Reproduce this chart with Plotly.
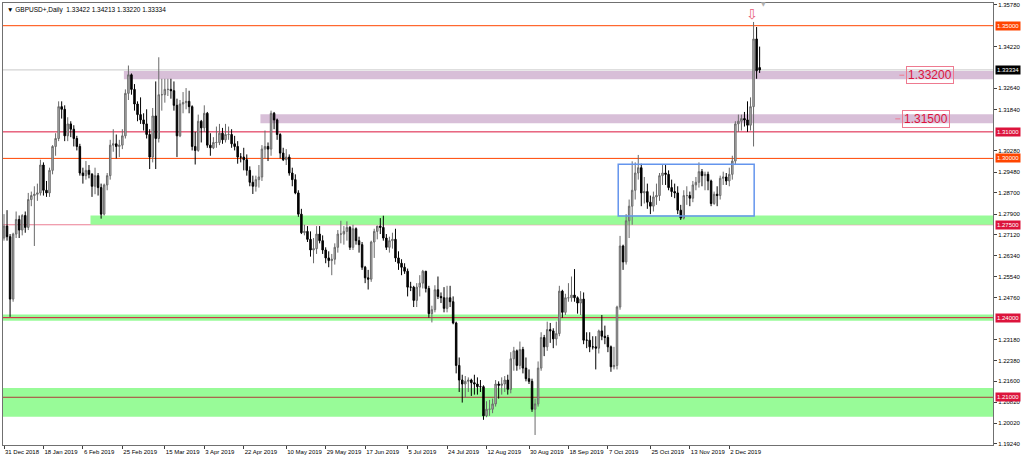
import plotly.graph_objects as go
import pandas as pd

# ---------------- data ----------------
opens = [
    1.2700, 1.2745, 1.2705, 1.2470, 1.2715, 1.2770, 1.2730, 1.2785, 1.2740, 1.2845,
    1.2860, 1.2865, 1.2870, 1.2975, 1.2880, 1.2870, 1.2955, 1.3045, 1.3075, 1.3195,
    1.3185, 1.3085, 1.3130, 1.3110, 1.3075, 1.3045, 1.2945, 1.2935, 1.2955, 1.2940,
    1.2895, 1.2935, 1.2890, 1.2790, 1.2900, 1.2935, 1.3050, 1.3055, 1.3045, 1.3050,
    1.3085, 1.3245, 1.3315, 1.3260, 1.3205, 1.3165, 1.3145, 1.3130, 1.3090, 1.3005,
    1.3160, 1.3075, 1.3240, 1.3240, 1.3260, 1.3260, 1.3255, 1.3200, 1.3085, 1.3205,
    1.3210, 1.3215, 1.3195, 1.3045, 1.3030, 1.3140, 1.3115, 1.3170, 1.3050, 1.3040,
    1.3060, 1.3060, 1.3095, 1.3070, 1.3090, 1.3090, 1.3055, 1.3045, 1.3005, 1.3005,
    1.2995, 1.2955, 1.2910, 1.2895, 1.2920, 1.2930, 1.3035, 1.3045, 1.3035, 1.3170,
    1.3145, 1.3090, 1.3020, 1.2995, 1.3005, 1.2945, 1.2920, 1.2870, 1.2790, 1.2720,
    1.2725, 1.2695, 1.2655, 1.2660, 1.2715, 1.2690, 1.2655, 1.2625, 1.2615, 1.2620,
    1.2665, 1.2715, 1.2715, 1.2725, 1.2740, 1.2665, 1.2735, 1.2690, 1.2675, 1.2590,
    1.2550, 1.2545, 1.2685, 1.2725, 1.2745, 1.2740, 1.2700, 1.2665, 1.2690, 1.2695,
    1.2625, 1.2605, 1.2590, 1.2575, 1.2515, 1.2515, 1.2465, 1.2515, 1.2530, 1.2575,
    1.2510, 1.2415, 1.2430, 1.2505, 1.2480, 1.2475, 1.2435, 1.2475, 1.2460, 1.2380,
    1.2220, 1.2165, 1.2150, 1.2160, 1.2165, 1.2155, 1.2150, 1.2140, 1.2140, 1.2030,
    1.2055, 1.2055, 1.2075, 1.2150, 1.2145, 1.2150, 1.2165, 1.2130, 1.2245, 1.2275,
    1.2220, 1.2280, 1.2210, 1.2170, 1.2160, 1.2055, 1.2075, 1.2210, 1.2325, 1.2290,
    1.2355, 1.2350, 1.2320, 1.2340, 1.2500, 1.2420, 1.2475, 1.2475, 1.2485, 1.2475,
    1.2455, 1.2470, 1.2315, 1.2315, 1.2290, 1.2290, 1.2285, 1.2350, 1.2330, 1.2325,
    1.2290, 1.2215, 1.2220, 1.2440, 1.2670, 1.2610, 1.2765, 1.2820, 1.2880, 1.2945,
    1.2965, 1.2870, 1.2875, 1.2835, 1.2820, 1.2855, 1.2860, 1.2935, 1.2945, 1.2940,
    1.2890, 1.2875, 1.2870, 1.2805, 1.2775, 1.2860, 1.2860, 1.2850, 1.2900, 1.2910,
    1.2950, 1.2935, 1.2940, 1.2915, 1.2830, 1.2865, 1.2860, 1.2925, 1.2930, 1.2915,
    1.2940, 1.2990, 1.3130, 1.3140, 1.3150, 1.3145, 1.3125, 1.3195, 1.3450, 1.33422,
]
highs = [
    1.2790, 1.2805, 1.2715, 1.2720, 1.2800, 1.2785, 1.2790, 1.2800, 1.2870, 1.2875,
    1.2895, 1.2905, 1.2995, 1.2985, 1.2915, 1.2965, 1.3050, 1.3095, 1.3215, 1.3215,
    1.3200, 1.3155, 1.3140, 1.3125, 1.3085, 1.3055, 1.2965, 1.2990, 1.2975, 1.2945,
    1.2965, 1.2945, 1.2905, 1.2905, 1.2945, 1.3070, 1.3110, 1.3090, 1.3070, 1.3110,
    1.3260, 1.3350, 1.3320, 1.3280, 1.3215, 1.3230, 1.3170, 1.3185, 1.3110, 1.3190,
    1.3290, 1.3381, 1.3300, 1.3300, 1.3300, 1.3300, 1.3290, 1.3225, 1.3220, 1.3250,
    1.3265, 1.3255, 1.3200, 1.3100, 1.3165, 1.3145, 1.3200, 1.3175, 1.3095, 1.3080,
    1.3120, 1.3130, 1.3115, 1.3130, 1.3120, 1.3110, 1.3085, 1.3065, 1.3020, 1.3040,
    1.3015, 1.2970, 1.2935, 1.2935, 1.2975, 1.3050, 1.3105, 1.3060, 1.3180, 1.3175,
    1.3150, 1.3095, 1.3040, 1.3035, 1.3015, 1.2965, 1.2940, 1.2880, 1.2810, 1.2750,
    1.2745, 1.2725, 1.2700, 1.2745, 1.2745, 1.2710, 1.2665, 1.2650, 1.2640, 1.2680,
    1.2730, 1.2765, 1.2745, 1.2763, 1.2745, 1.2750, 1.2740, 1.2705, 1.2685, 1.2595,
    1.2580, 1.2690, 1.2735, 1.2745, 1.2775, 1.2784, 1.2715, 1.2705, 1.2720, 1.2735,
    1.2650, 1.2620, 1.2605, 1.2585, 1.2535, 1.2520, 1.2530, 1.2560, 1.2580, 1.2575,
    1.2520, 1.2445, 1.2522, 1.2555, 1.2495, 1.2515, 1.2520, 1.2520, 1.2480, 1.2385,
    1.2250, 1.2185, 1.2180, 1.2175, 1.2170, 1.2185, 1.2175, 1.2165, 1.2145, 1.2085,
    1.2090, 1.2095, 1.2165, 1.2160, 1.2175, 1.2180, 1.2185, 1.2270, 1.2290, 1.2280,
    1.2310, 1.2290, 1.2250, 1.2205, 1.2170, 1.2095, 1.2235, 1.2345, 1.2335, 1.2385,
    1.2380, 1.2360, 1.2385, 1.2520, 1.2505, 1.2490, 1.2530, 1.2555, 1.2583, 1.2480,
    1.2500, 1.2495, 1.2345, 1.2345, 1.2330, 1.2330, 1.2355, 1.2410, 1.2370, 1.2335,
    1.2295, 1.2290, 1.2445, 1.2708, 1.2675, 1.2790, 1.2845, 1.2989, 1.2985, 1.3013,
    1.2980, 1.2930, 1.2905, 1.2860, 1.2875, 1.2905, 1.2945, 1.2975, 1.2975, 1.2955,
    1.2920, 1.2905, 1.2895, 1.2825, 1.2880, 1.2895, 1.2875, 1.2915, 1.2930, 1.2985,
    1.2960, 1.2950, 1.2950, 1.2920, 1.2875, 1.2895, 1.2935, 1.2950, 1.2945, 1.2965,
    1.3010, 1.3140, 1.3165, 1.3165, 1.3175, 1.3215, 1.3230, 1.3514, 1.3495, 1.34213,
]
lows = [
    1.2690, 1.2690, 1.2403, 1.2460, 1.2700, 1.2700, 1.2710, 1.2720, 1.2730, 1.2820,
    1.2670, 1.2840, 1.2860, 1.2860, 1.2855, 1.2855, 1.2940, 1.3010, 1.3065, 1.3150,
    1.3065, 1.3065, 1.3080, 1.3045, 1.3030, 1.2935, 1.2905, 1.2920, 1.2925, 1.2855,
    1.2865, 1.2860, 1.2773, 1.2785, 1.2880, 1.2920, 1.3025, 1.3000, 1.3005, 1.3035,
    1.3075, 1.3220, 1.3240, 1.3180, 1.3140, 1.3130, 1.3105, 1.3075, 1.2960, 1.2985,
    1.2960, 1.3060, 1.3180, 1.3210, 1.3235, 1.3225, 1.3180, 1.3005, 1.3080, 1.3170,
    1.3185, 1.3170, 1.3030, 1.2977, 1.3025, 1.3060, 1.3100, 1.3040, 1.3010, 1.3035,
    1.3040, 1.3050, 1.3055, 1.3060, 1.3070, 1.3040, 1.3030, 1.2980, 1.2985, 1.2955,
    1.2935, 1.2895, 1.2866, 1.2875, 1.2890, 1.2915, 1.3000, 1.2990, 1.3010, 1.3110,
    1.3070, 1.3000, 1.2990, 1.2975, 1.2935, 1.2895, 1.2865, 1.2780, 1.2715, 1.2710,
    1.2685, 1.2630, 1.2605, 1.2640, 1.2680, 1.2640, 1.2605, 1.2590, 1.2560, 1.2600,
    1.2645, 1.2680, 1.2675, 1.2690, 1.2655, 1.2655, 1.2675, 1.2645, 1.2580, 1.2530,
    1.2506, 1.2535, 1.2625, 1.2695, 1.2715, 1.2690, 1.2655, 1.2645, 1.2660, 1.2610,
    1.2580, 1.2560, 1.2565, 1.2480, 1.2500, 1.2440, 1.2440, 1.2480, 1.2510, 1.2495,
    1.2400, 1.2382, 1.2420, 1.2470, 1.2455, 1.2420, 1.2420, 1.2440, 1.2375, 1.2190,
    1.2120, 1.2080, 1.2100, 1.2120, 1.2105, 1.2110, 1.2110, 1.2120, 1.2015, 1.2025,
    1.2030, 1.2040, 1.2065, 1.2095, 1.2110, 1.2120, 1.2110, 1.2115, 1.2200, 1.2200,
    1.2205, 1.2190, 1.2160, 1.2150, 1.2045, 1.1958, 1.2065, 1.2200, 1.2255, 1.2275,
    1.2305, 1.2285, 1.2295, 1.2330, 1.2400, 1.2410, 1.2460, 1.2460, 1.2460, 1.2415,
    1.2410, 1.2300, 1.2285, 1.2270, 1.2280, 1.2205, 1.2265, 1.2315, 1.2300, 1.2270,
    1.2196, 1.2205, 1.2205, 1.2430, 1.2580, 1.2600, 1.2700, 1.2750, 1.2845, 1.2920,
    1.2820, 1.2830, 1.2810, 1.2790, 1.2800, 1.2825, 1.2840, 1.2900, 1.2900, 1.2880,
    1.2855, 1.2850, 1.2790, 1.2768, 1.2770, 1.2825, 1.2820, 1.2835, 1.2880, 1.2890,
    1.2895, 1.2880, 1.2880, 1.2820, 1.2825, 1.2820, 1.2845, 1.2900, 1.2900, 1.2895,
    1.2920, 1.2975, 1.3100, 1.3105, 1.3120, 1.3100, 1.3105, 1.3045, 1.3300, 1.33220,
]
closes = [
    1.2745, 1.2705, 1.2470, 1.2715, 1.2770, 1.2730, 1.2785, 1.2740, 1.2845, 1.2860,
    1.2865, 1.2870, 1.2975, 1.2880, 1.2870, 1.2955, 1.3045, 1.3075, 1.3195, 1.3185,
    1.3085, 1.3130, 1.3110, 1.3075, 1.3045, 1.2945, 1.2935, 1.2955, 1.2940, 1.2895,
    1.2935, 1.2890, 1.2790, 1.2900, 1.2935, 1.3050, 1.3055, 1.3045, 1.3050, 1.3085,
    1.3245, 1.3315, 1.3260, 1.3205, 1.3165, 1.3145, 1.3130, 1.3090, 1.3005, 1.3160,
    1.3075, 1.3240, 1.3240, 1.3260, 1.3260, 1.3255, 1.3200, 1.3085, 1.3205, 1.3210,
    1.3215, 1.3195, 1.3045, 1.3030, 1.3140, 1.3115, 1.3170, 1.3050, 1.3040, 1.3060,
    1.3060, 1.3095, 1.3070, 1.3090, 1.3090, 1.3055, 1.3045, 1.3005, 1.3005, 1.2995,
    1.2955, 1.2910, 1.2895, 1.2920, 1.2930, 1.3035, 1.3045, 1.3035, 1.3170, 1.3145,
    1.3090, 1.3020, 1.2995, 1.3005, 1.2945, 1.2920, 1.2870, 1.2790, 1.2720, 1.2725,
    1.2695, 1.2655, 1.2660, 1.2715, 1.2690, 1.2655, 1.2625, 1.2615, 1.2620, 1.2665,
    1.2715, 1.2715, 1.2725, 1.2740, 1.2665, 1.2735, 1.2690, 1.2675, 1.2590, 1.2550,
    1.2545, 1.2685, 1.2725, 1.2745, 1.2740, 1.2700, 1.2665, 1.2690, 1.2695, 1.2625,
    1.2605, 1.2590, 1.2575, 1.2515, 1.2515, 1.2465, 1.2515, 1.2530, 1.2575, 1.2510,
    1.2415, 1.2430, 1.2505, 1.2480, 1.2475, 1.2435, 1.2475, 1.2460, 1.2380, 1.2220,
    1.2165, 1.2150, 1.2160, 1.2165, 1.2155, 1.2150, 1.2140, 1.2140, 1.2030, 1.2055,
    1.2055, 1.2075, 1.2150, 1.2145, 1.2150, 1.2165, 1.2130, 1.2245, 1.2275, 1.2220,
    1.2280, 1.2210, 1.2170, 1.2160, 1.2055, 1.2075, 1.2210, 1.2325, 1.2290, 1.2355,
    1.2350, 1.2320, 1.2340, 1.2500, 1.2420, 1.2475, 1.2475, 1.2485, 1.2475, 1.2455,
    1.2470, 1.2315, 1.2315, 1.2290, 1.2290, 1.2285, 1.2350, 1.2330, 1.2325, 1.2290,
    1.2215, 1.2220, 1.2440, 1.2670, 1.2610, 1.2765, 1.2820, 1.2880, 1.2945, 1.2965,
    1.2870, 1.2875, 1.2835, 1.2820, 1.2855, 1.2860, 1.2935, 1.2945, 1.2940, 1.2890,
    1.2875, 1.2870, 1.2805, 1.2775, 1.2860, 1.2860, 1.2850, 1.2900, 1.2910, 1.2950,
    1.2935, 1.2940, 1.2915, 1.2830, 1.2865, 1.2860, 1.2925, 1.2930, 1.2915, 1.2940,
    1.2990, 1.3130, 1.3140, 1.3150, 1.3145, 1.3125, 1.3195, 1.3450, 1.3330, 1.33334,
]

# trading days of the chart (Jan 1 has no bar)
dates = [d.strftime("%Y-%m-%d") for d in pd.bdate_range("2018-12-31", "2019-12-16")
         if d.strftime("%Y-%m-%d") != "2019-01-01"]

tick_dates = ["2018-12-31", "2019-01-18", "2019-02-06", "2019-02-25", "2019-03-15",
              "2019-04-03", "2019-04-22", "2019-05-10", "2019-05-29", "2019-06-17",
              "2019-07-05", "2019-07-24", "2019-08-12", "2019-08-30", "2019-09-18",
              "2019-10-07", "2019-10-25", "2019-11-13", "2019-12-02"]
tick_labels = ["31 Dec 2018", "18 Jan 2019", "6 Feb 2019", "25 Feb 2019", "15 Mar 2019",
               "3 Apr 2019", "22 Apr 2019", "10 May 2019", "29 May 2019", "17 Jun 2019",
               "5 Jul 2019", "24 Jul 2019", "12 Aug 2019", "30 Aug 2019", "18 Sep 2019",
               "7 Oct 2019", "25 Oct 2019", "13 Nov 2019", "2 Dec 2019"]

price_ticks = [1.35780, 1.34220, 1.32640, 1.31840, 1.30280, 1.29480, 1.28700, 1.27900,
               1.27120, 1.26340, 1.25540, 1.24760, 1.23180, 1.22380, 1.21600, 1.20820,
               1.20020, 1.19240]

# horizontal levels
level_prices = [1.35000, 1.31000, 1.30000, 1.27500, 1.24000, 1.21000]
level_tags = ["orange", "crimson", "orange", "crimson_soft", "crimson", "crimson_dark"]

# green zones: (low, high, start date or None = whole chart)
green_lo = [1.2750, 1.2388, 1.2027]
green_hi = [1.2785, 1.2412, 1.2135]
green_start = ["2019-02-11", None, None]

# purple zones with text labels
purple_lo = [1.3298, 1.3132]
purple_hi = [1.3329, 1.3166]
purple_start = ["2019-02-26", "2019-04-30"]
purple_text = ["1.33200", "1.31500"]

# consolidation rectangle
box_start, box_end = "2019-10-10", "2019-12-12"
box_lo, box_hi = 1.2783, 1.2978

# arrow over the spike
arrow_date = "2019-12-12"

# ---------------- figure ----------------
Y0, Y1 = 1.19202, 1.35855
X0, X1 = -0.33, 325.9
FONT = "Liberation Sans"
COL = {"orange": "#FF4500", "crimson": "#DC143C", "crimson_soft": "rgba(220,20,60,0.55)",
       "crimson_dark": "#B03A3A"}
LABEL_BG = {"orange": "#FF4500", "crimson": "#DC143C", "crimson_soft": "#DC143C",
            "crimson_dark": "#DC143C"}

idx = {d: i for i, d in enumerate(dates)}

fig = go.Figure()
fig.add_trace(go.Candlestick(
    x=dates, open=opens, high=highs, low=lows, close=closes,
    increasing=dict(line=dict(color="#6a6a6a", width=1), fillcolor="#bdbdbd"),
    decreasing=dict(line=dict(color="#000000", width=1), fillcolor="#000000"),
    whiskerwidth=0, hoverinfo="skip", showlegend=False,
))

shapes = []
# bid line (light gray)
shapes.append(dict(type="line", xref="paper", x0=0, x1=1, yref="y",
                   y0=closes[-1], y1=closes[-1], line=dict(color="#c8c8c8", width=1),
                   layer="below"))
# green zones
for lo, hi, st in zip(green_lo, green_hi, green_start):
    if st is None:
        shapes.append(dict(type="rect", xref="paper", x0=0, x1=1, yref="y", y0=lo, y1=hi,
                           fillcolor="#98FB98", line=dict(width=0), layer="below"))
    else:
        shapes.append(dict(type="rect", xref="x", x0=idx[st] - 0.5, x1=X1, yref="y",
                           y0=lo, y1=hi, fillcolor="#98FB98", line=dict(width=0),
                           layer="below"))
# purple zones
for lo, hi, st in zip(purple_lo, purple_hi, purple_start):
    shapes.append(dict(type="rect", xref="x", x0=idx[st] - 0.5, x1=X1, yref="y",
                       y0=lo, y1=hi, fillcolor="#D8BFD8", line=dict(width=0),
                       layer="below"))
# level lines
for p, tag in zip(level_prices, level_tags):
    shapes.append(dict(type="line", xref="paper", x0=0, x1=1, yref="y", y0=p, y1=p,
                       line=dict(color=COL[tag], width=1), layer="below"))
# rectangle
shapes.append(dict(type="rect", xref="x", x0=idx[box_start] + 0.4, x1=idx[box_end] + 0.2,
                   yref="y", y0=box_lo, y1=box_hi, fillcolor="rgba(0,0,0,0)",
                   line=dict(color="#6495ED", width=1.5), layer="above"))

annotations = []
# right-side price tags for the levels
for p, tag in zip(level_prices, level_tags):
    annotations.append(dict(xref="paper", x=1, xanchor="left", xshift=2, yref="y", y=p,
                            yanchor="middle", text=f"{p:.5f}", showarrow=False,
                            font=dict(family=FONT, size=6, color="white"),
                            bgcolor=LABEL_BG[tag], borderpad=1))
# current price tag
annotations.append(dict(xref="paper", x=1, xanchor="left", xshift=2, yref="y", y=closes[-1],
                        yanchor="middle", text=f"{closes[-1]:.5f}", showarrow=False,
                        font=dict(family=FONT, size=6, color="white"),
                        bgcolor="#000000", borderpad=1))
# purple zone text boxes
for lo, hi, txt, px in zip(purple_lo, purple_hi, purple_text, [0.9364, 0.9323]):
    annotations.append(dict(xref="paper", x=px, xanchor="center", yref="y",
                            y=(lo + hi) / 2, yanchor="middle", text=txt, showarrow=False,
                            font=dict(family=FONT, size=12, color="#DC143C"),
                            bordercolor="#EE7A90", borderwidth=1, borderpad=1))
    shapes.append(dict(type="line", xref="paper", x0=px - 0.031, x1=px - 0.026, yref="y",
                       y0=(lo + hi) / 2, y1=(lo + hi) / 2,
                       line=dict(color="#EE7A90", width=1)))
# title
annotations.append(dict(xref="paper", yref="paper", x=0, y=1, xanchor="left", yanchor="top",
                        xshift=2, yshift=-1,
                        text="▼ GBPUSD+,Daily  1.33422 1.34213 1.33220 1.33334",
                        showarrow=False, font=dict(family=FONT, size=6.5, color="black")))
# arrow over the spike
annotations.append(dict(xref="x", x=idx[arrow_date], yref="y", y=1.3545, xshift=-2,
                        text="⇩", showarrow=False,
                        font=dict(family="DejaVu Sans", size=14, color="#E8607A")))
# chart shift marker
annotations.append(dict(xref="x", x=idx[dates[-1]] + 1.3, yref="paper", y=1, yanchor="middle",
                        text="▼", showarrow=False,
                        font=dict(family="DejaVu Sans", size=6, color="#b0b0b0")))

fig.update_layout(
    width=1024, height=460,
    margin=dict(l=3, r=31, t=3, b=15, autoexpand=False),
    paper_bgcolor="white", plot_bgcolor="white",
    showlegend=False, shapes=shapes, annotations=annotations,
    xaxis=dict(type="category", range=[X0, X1], rangeslider=dict(visible=False),
               tickmode="array", tickvals=tick_dates, ticktext=tick_labels,
               tickangle=0, automargin=False,
               ticks="outside", ticklen=3, tickcolor="#404040",
               ticklabelposition="outside right", ticklabelstandoff=1,
               tickfont=dict(family=FONT, size=6, color="black"),
               showline=True, linecolor="#707070", linewidth=1, mirror=True,
               showgrid=False, zeroline=False, fixedrange=True),
    yaxis=dict(side="right", range=[Y0, Y1], tickmode="array", tickvals=price_ticks,
               ticktext=[f"{v:.5f}" for v in price_ticks], automargin=False,
               ticks="outside", ticklen=3, tickcolor="#404040",
               tickfont=dict(family=FONT, size=6, color="black"),
               showline=True, linecolor="#707070", linewidth=1, mirror=True,
               showgrid=False, zeroline=False, fixedrange=True),
)

fig.write_html("out.html", config={"displayModeBar": False, "responsive": False},
               post_script="document.body.style.margin='0';document.body.style.overflow='hidden';")
